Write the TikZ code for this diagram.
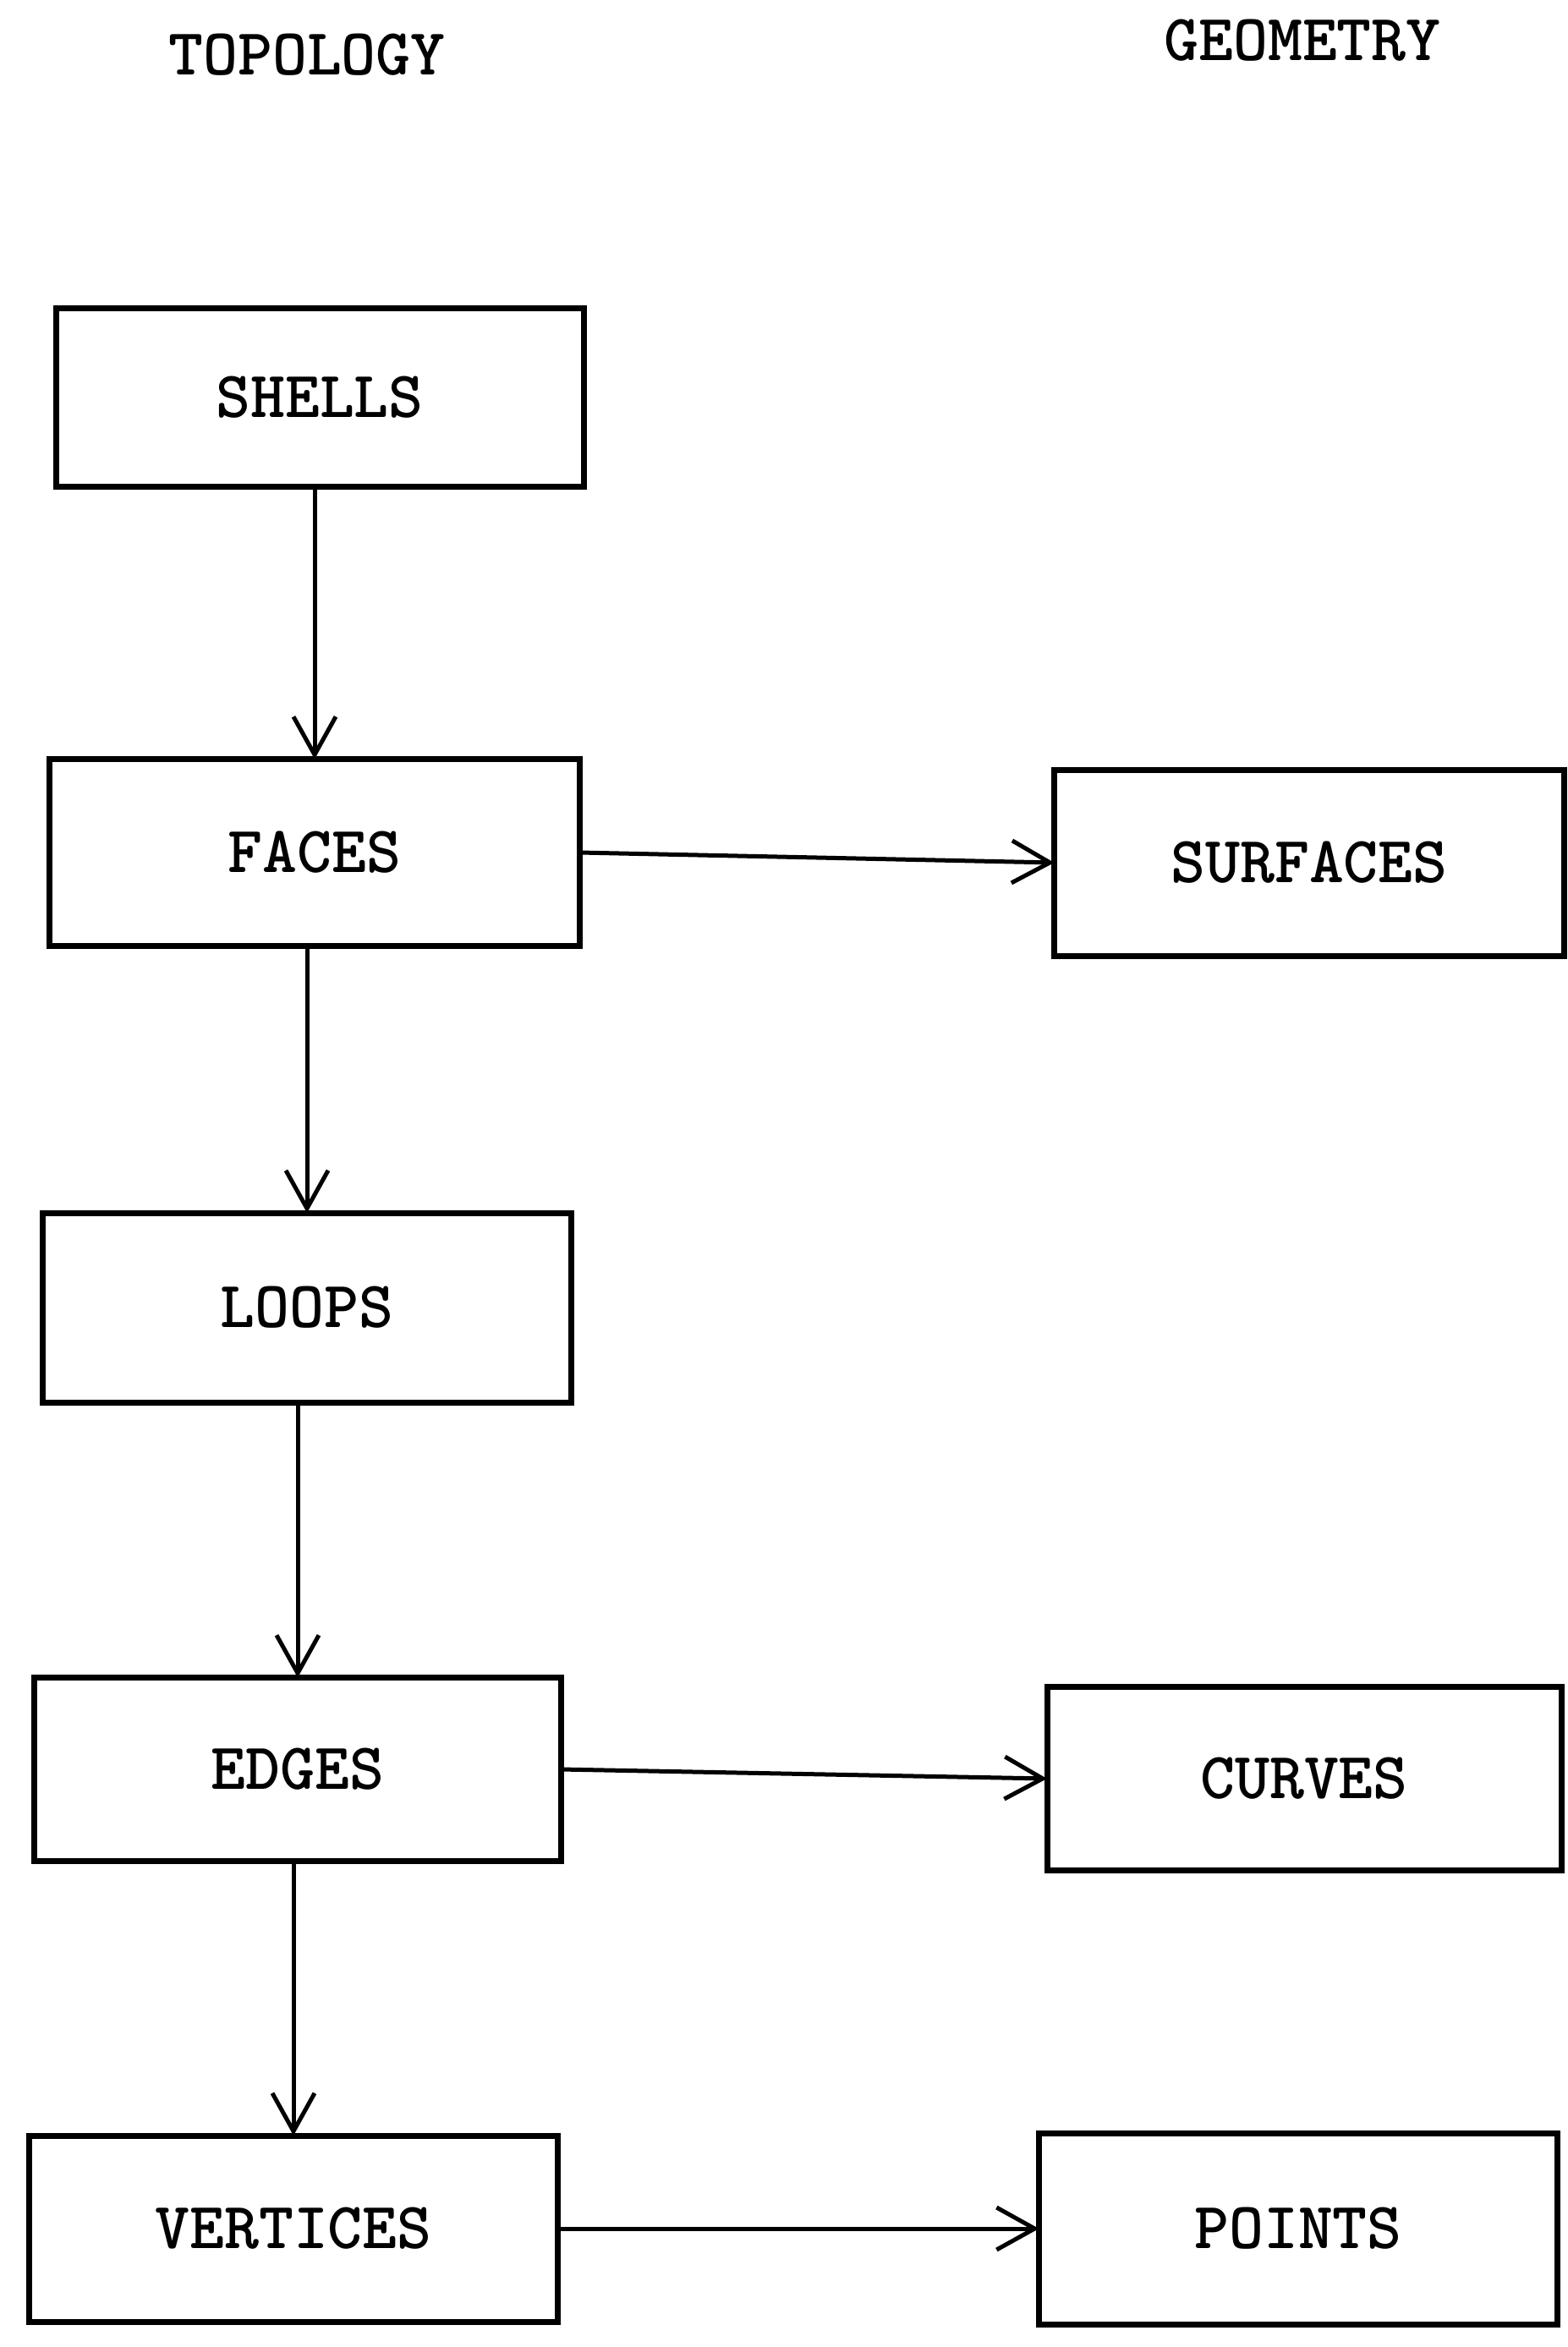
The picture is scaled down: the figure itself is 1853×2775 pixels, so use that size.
\documentclass[tikz,border=0pt]{standalone}
\usepackage{fontspec}
\usetikzlibrary{arrows.meta}
\begin{document}
\begin{tikzpicture}[x=1pt,y=-1pt,
  box/.style={draw, line width=7pt, rectangle, inner sep=0pt, outer sep=0pt,
    font=\ttfamily\bfseries\fontsize{78}{78}\selectfont},
  title/.style={font=\ttfamily\bfseries\fontsize{78}{78}\selectfont, inner sep=0pt},
  conn/.style={line width=5pt, -{Straight Barb[length=45pt,width=50pt,line width=5pt]}}]
\useasboundingbox (0,0) rectangle (1853,2775);
\node[title] (topo) at (363,65) {TOPOLOGY};
\node[title] (geom) at (1540,48) {GEOMETRY};
\node[box, minimum width=624pt, minimum height=211pt] (shells) at (378,470) {SHELLS};
\node[box, minimum width=627pt, minimum height=221pt] (faces) at (372,1008) {FACES};
\node[box, minimum width=603pt, minimum height=220pt] (surfaces) at (1548,1020) {SURFACES};
\node[box, minimum width=625pt, minimum height=224pt] (loops) at (363,1546) {LOOPS};
\node[box, minimum width=623pt, minimum height=217pt] (edges) at (352,2092) {EDGES};
\node[box, minimum width=608pt, minimum height=217pt] (curves) at (1542,2103) {CURVES};
\node[box, minimum width=625pt, minimum height=220pt] (vertices) at (347,2635) {VERTICES};
\node[box, minimum width=613pt, minimum height=226pt] (points) at (1535,2635) {POINTS};
\draw[conn] (faces.north |- shells.south) -- (faces.north);
\draw[conn] (loops.north |- faces.south) -- (loops.north);
\draw[conn] (edges.north |- loops.south) -- (edges.north);
\draw[conn] (vertices.north |- edges.south) -- (vertices.north);
\draw[conn] (faces.east) -- (surfaces.west);
\draw[conn] (edges.east) -- (curves.west);
\draw[conn] (vertices.east) -- (points.west);
\end{tikzpicture}
\end{document}
